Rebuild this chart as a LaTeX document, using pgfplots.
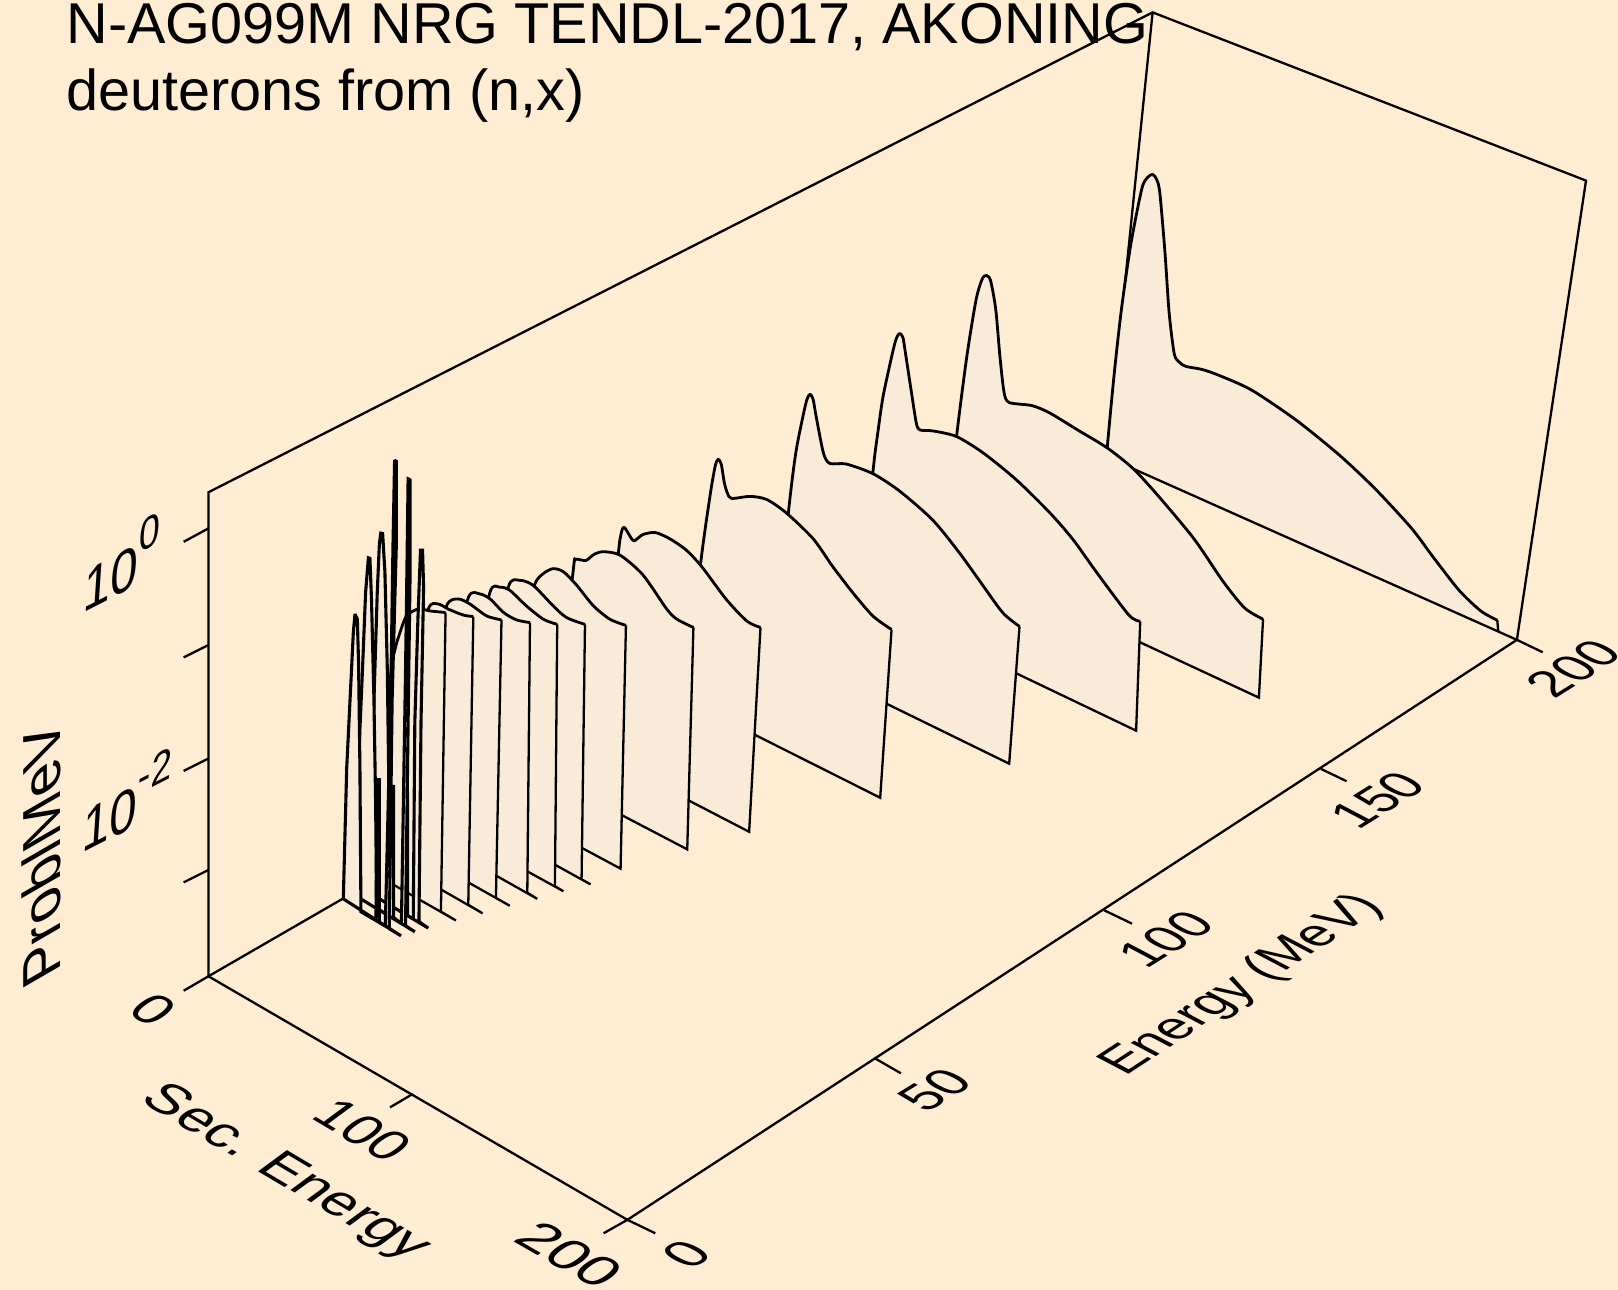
\documentclass[border=0pt]{standalone}
\usepackage{pgfplots}
\pgfplotsset{compat=1.18}
\usepackage{fontspec}
\setmainfont{Liberation Sans}
\definecolor{bg}{HTML}{FFEDD3}
\definecolor{pn}{HTML}{FAEBD9}
\newcommand\lf{\fontsize{25}{30}\selectfont}
\newcommand\sx[1]{\raisebox{0.52em}{\fontsize{19}{19}\selectfont #1}}
\pgfplotsset{
  ln/.style={black,line width=1.15pt,mark=none,line cap=butt,line join=miter},
  cv/.style={black,line width=1.4pt,mark=none,smooth,tension=0.45,line join=round},
  ft/.style={draw=none,fill=pn,mark=none},
  pl/.style={draw=black,fill=pn,line width=1.55pt,mark=none,line join=miter,miter limit=2},
}
% curve points; tail from the last curve point along the base; start point
\newcommand\panel[3]{%
  \addplot[ft] coordinates {#1 #2} --cycle;
  \addplot[cv] coordinates {#1};
  \addplot[ln] coordinates {#2 #3};
}
\begin{document}
\begin{tikzpicture}
\path[use as bounding box,clip] (0,0) rectangle (809pt,645pt);
\begin{axis}[at={(0,0)},anchor=south west,scale only axis,width=809pt,height=645pt,
  xmin=0,xmax=1568,ymin=0,ymax=1250,y dir=reverse,axis lines=none,ticks=none,clip=false,
  axis background/.style={fill=bg}]
% box
\addplot[ln] coordinates {(202,946)(202,477)(1117,12)(1537,175)(1470,620)(608,1182)(202,946)};
\addplot[ln] coordinates {(1117,12)(1073,443)};
\addplot[ln] coordinates {(202,946)(1073,443)};
% ticks
\addplot[ln] coordinates {(202,512)(178,525)};
\addplot[ln] coordinates {(202,625)(178,637)};
\addplot[ln] coordinates {(202,735)(178,747)};
\addplot[ln] coordinates {(202,843)(178,855)};
\addplot[ln] coordinates {(202,946)(178,960)};
\addplot[ln] coordinates {(400,1060)(378,1073)};
\addplot[ln] coordinates {(608,1182)(585,1195)};
\addplot[ln] coordinates {(608,1182)(635,1195)};
\addplot[ln] coordinates {(847,1025)(873,1040)};
\addplot[ln] coordinates {(1070,882)(1097,895)};
\addplot[ln] coordinates {(1280,745)(1305,757)};
\addplot[ln] coordinates {(1470,620)(1495,632)};
% panels, back to front
\panel{(1073,443)(1073,434)(1080,360)(1087,298)(1096,236)(1106.5,183)(1112,172)(1117,169)(1121,174)(1124,187)(1129,245)(1133,303)(1138,343)(1143,351)(1149,355)(1165,358)(1182,364)(1213,378)(1256,407)(1298,441)(1333,474)(1368,512)(1389,540)(1414,572)(1435,592)(1451,601)}{(1451,601)(1452,612)(1470,620)}{(1073,443)}
\panel{(915,534)(927,423)(937,345)(946,290)(952,270)(956,267)(960,272)(965,300)(969,345)(973,380)(978,390)(1000,393)(1017,400)(1045,417)(1073,434)(1098,454)(1122,480)(1157,522)(1185,563)(1206,589)(1224,600)}{(1224,600)(1220,676)}{(915,534)}
\panel{(834.7,580.6)(846,457)(851,417)(856,383)(865.6,339)(869,327)(872,323)(875,327)(877,339)(883.4,381)(888,410)(891.5,416.6)(904.4,417.6)(927,423)(953,439)(985,465)(1017.5,497)(1040,523)(1063,555)(1094,596)(1105,602)}{(1105,602)(1101,708)}{(834.7,580.6)}
\panel{(751,629)(764,497)(771,440)(778,404)(782,387)(785,382)(788,387)(791,404)(798,439)(804,449)(820,449.6)(846,459)(872,476)(904,504)(930,536)(953,568)(972,594)(988,607)}{(988,607)(978,740)}{(751,629)}
\panel{(665,678.6)(679,546)(688,481)(693,452)(696,445)(699,450)(702,468)(705,478)(709,483)(727,481)(743,484)(762,497)(788,522)(807,549)(827,575)(846,597)(864,610)}{(864,610)(853,773)}{(665,678.6)}
\panel{(577.4,729)(599,538)(601,522)(603,513)(605,511)(609,517)(612,522)(615,524)(623,518)(635,516)(649,522)(665,533)(680,549)(704,581)(724,602)(737,608)}{(737,608)(726,806)}{(577.4,729)}
\panel{(534,754)(555,557.5)(557,543)(560,542)(568,543)(576,537)(585,534.6)(601,538)(623,557)(646,590)(656,600)(672,608)}{(672,608)(666,823)}{(534,754)}
\panel{(488,781)(500,700)(510,600)(518.4,565.7)(526.5,555.8)(536,551)(546,554)(558.8,567)(575,587)(591,600)(606.6,606)}{(606.6,606)(601.4,841.7)}{(488,781)}
\panel{(462,796)(480,650)(492.6,569)(504,562.4)(516.8,567.3)(536,587)(549,598.4)(566.9,605)}{(566.9,605)(563.6,852)(572.4,857)}{(462,796)}
\panel{(443,806.8)(460,650)(474.8,574)(484.5,569)(494,572)(510,587)(526.5,600)(540,605)}{(540,605)(537.8,858.7)(546,863.6)}{(443,806.8)}
\panel{(425,817)(440,640)(454,578.8)(465,575.5)(475,580.4)(488,593.5)(500.6,600.7)(513.6,603.3)}{(513.6,603.3)(511,865)(520.7,871)}{(425,817)}
\panel{(406,828)(420,640)(432.8,587)(444,580.4)(455.4,585.3)(471.6,596.8)(486,600.7)}{(486,600.7)(480.6,870)(494,877.7)}{(406,828)}
\panel{(387.5,839)(400,650)(415,590.2)(424.7,585.3)(434.4,590.2)(449,596)(458.7,597.4)}{(458.7,597.4)(453.8,876.7)(467.7,885)}{(387.5,839)}
\panel{(368.6,850)(378,662)(382.8,629.5)(387.6,613)(394,596.8)(405.4,590)(416.7,592)(431.8,593.5)}{(431.8,593.5)(427.3,883.3)(441.9,892)}{(368.6,850)}
% three front panels: hump, low peak, spike
\addplot[pl] coordinates {(351,861)(357,842)(359,793)(362.4,678.6)(365.6,574)(367.6,528)(369,516.6)(370.8,517)(373,554)(375.3,646)(376.6,744)(377.3,876.8)(391,885)(392.5,770)(395,770)(395,887)(400.5,890.7)(402,700)(405,600)(407.5,533)(409.5,533)(410.5,569)(408,700)(406,893)(415,899.3)} --cycle;
\addplot[pl] coordinates {(341.4,866)(347.2,744)(351.4,646)(354.3,574)(357,540.5)(358.5,541)(360,580.4)(362.4,678.6)(364,777)(365,880)(376.5,887)(379.5,762)(381.5,762)(381.5,889)(389,895)(393,650)(394.5,540)(395.5,464)(397.5,465)(397.5,549)(395.5,700)(393,897)(402,902.9)} --cycle;
\addplot[pl] coordinates {(332.7,871)(336,744)(340.8,646)(342.4,613)(344,595)(346.3,600)(347.5,643)(348.8,744)(349.8,883.5)(364.3,892)(365.6,755.6)(367.6,755.6)(367.6,894)(373.4,897.4)(378.6,678.6)(380.8,531)(382.4,446)(384,447)(384,531)(380,678.6)(377.3,900)(388.6,906.8)} --cycle;
% text
\node[anchor=base west,inner sep=0pt,font=\fontsize{28.8}{30}\selectfont] at (axis cs:64,42) {N-AG099M NRG TENDL-2017, AKONING};
\node[anchor=base west,inner sep=0pt,font=\fontsize{28.8}{30}\selectfont] at (axis cs:64,107) {deuterons from (n,x)};
\node[inner sep=0pt,font=\lf,cm={.96,-.56,.84,.62,(0,0)}] at (axis cs:149,978) {0};
\node[inner sep=0pt,font=\lf,cm={.93,-.55,.84,.62,(0,0)}] at (axis cs:352,1095) {100};
\node[inner sep=0pt,font=\lf,cm={1.05,-.6,.84,.62,(0,0)}] at (axis cs:552,1216) {200};
\node[inner sep=0pt,font=\lf,cm={.98,-.58,.84,.62,(0,0)}] at (axis cs:276,1137) {Sec. Energy};
\node[inner sep=0pt,font=\lf,cm={.9,.55,-.95,.5,(0,0)}] at (axis cs:665,1215) {0};
\node[inner sep=0pt,font=\lf,cm={.88,.54,-.95,.5,(0,0)}] at (axis cs:906,1056) {50};
\node[inner sep=0pt,font=\lf,cm={.85,.53,-.95,.5,(0,0)}] at (axis cs:1130,910) {100};
\node[inner sep=0pt,font=\lf,cm={.85,.53,-.95,.5,(0,0)}] at (axis cs:1335,775) {150};
\node[inner sep=0pt,font=\lf,cm={.85,.53,-.95,.5,(0,0)}] at (axis cs:1525,648) {200};
\node[inner sep=0pt,font=\lf,cm={.84,.55,-.95,.5,(0,0)}] at (axis cs:1204,955) {Energy (MeV)};
\node[inner sep=0pt,font=\lf,cm={.98,.5,.08,1.22,(0,0)}] at (axis cs:118,545) {10\sx{0}};
\node[inner sep=0pt,font=\lf,cm={.98,.5,.08,1.22,(0,0)}] at (axis cs:123,775) {10\sx{-2}};
\node[inner sep=0pt,font=\lf,cm={0,1.17,-1.07,-.62,(0,0)}] at (axis cs:40,828) {ProblMeV};
\end{axis}
\end{tikzpicture}
\end{document}
